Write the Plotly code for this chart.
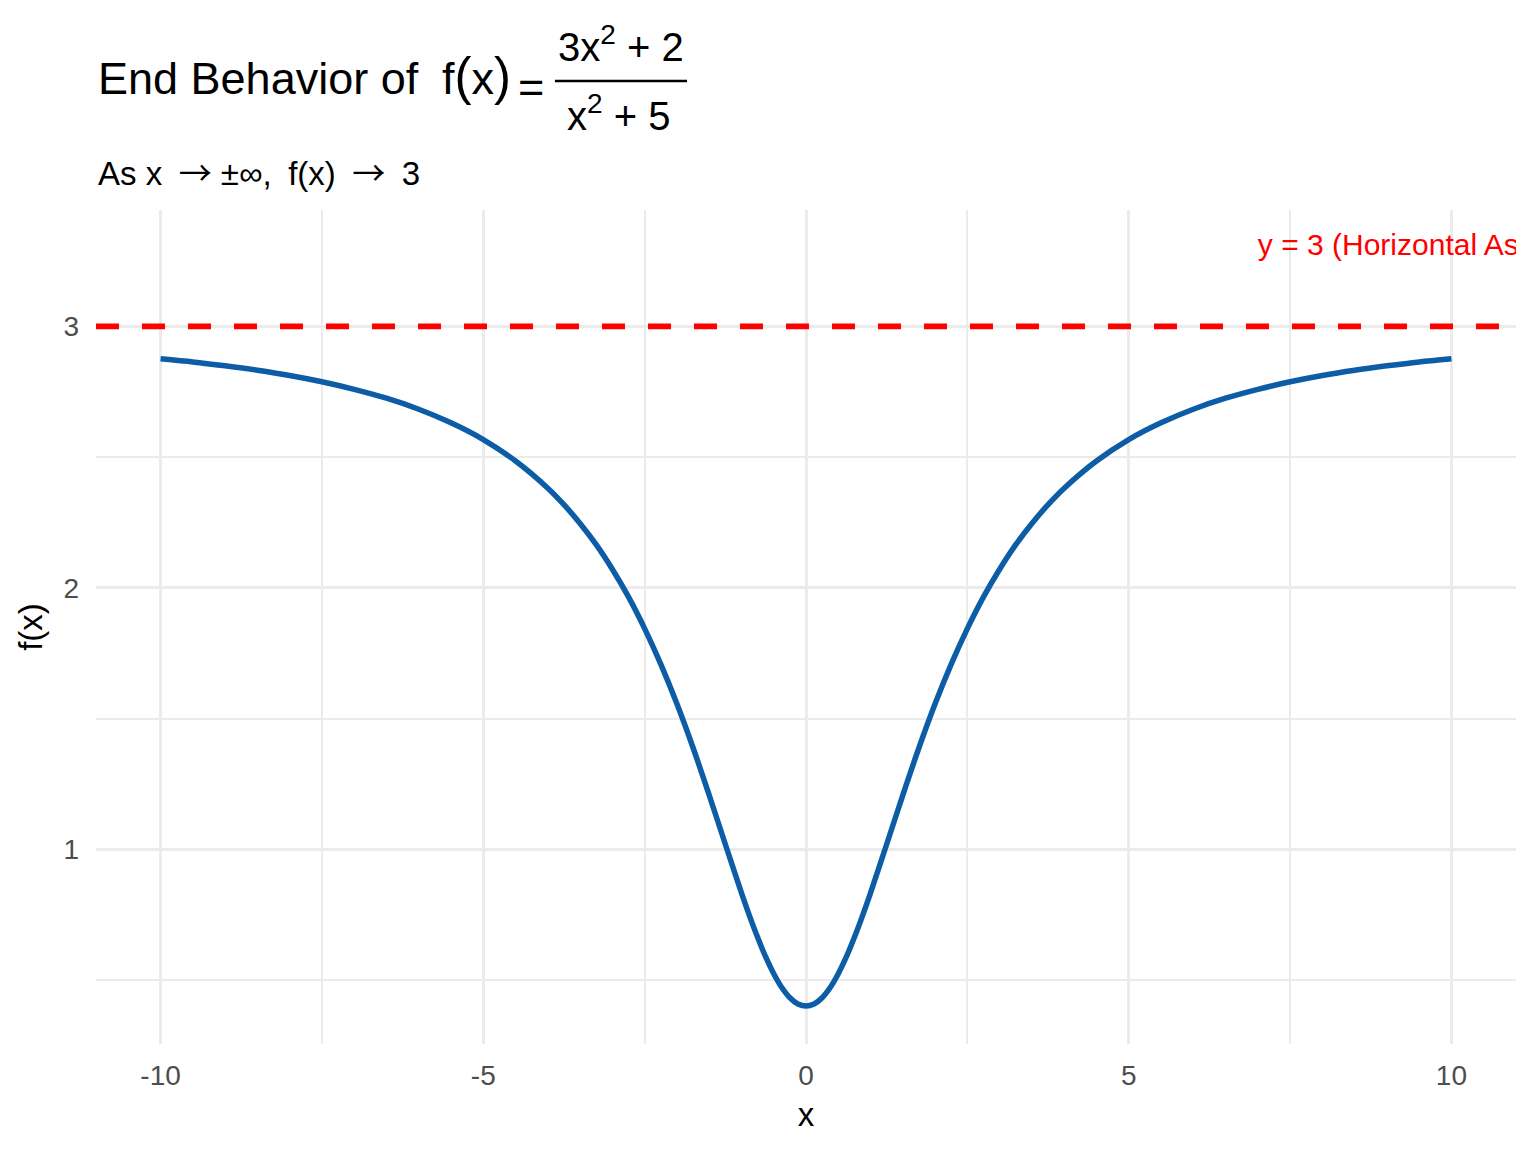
import plotly.graph_objects as go

# values (denser near the dip)
x_vals = [-10, -9.5, -9, -8.5, -8, -7.5, -7, -6.5, -6, -5.5, -5, -4.5,
          -4, -3.75, -3.5, -3.25, -3, -2.75, -2.5, -2.25, -2, -1.75, -1.5, -1.25,
          -1, -0.875, -0.75, -0.625, -0.5, -0.375, -0.25, -0.125, 0,
          0.125, 0.25, 0.375, 0.5, 0.625, 0.75, 0.875, 1,
          1.25, 1.5, 1.75, 2, 2.25, 2.5, 2.75, 3, 3.25, 3.5, 3.75, 4,
          4.5, 5, 5.5, 6, 6.5, 7, 7.5, 8, 8.5, 9, 9.5, 10]
y_vals = [2.876, 2.864, 2.849, 2.832, 2.812, 2.788, 2.759, 2.725, 2.683, 2.631, 2.567, 2.485,
          2.381, 2.318, 2.246, 2.165, 2.071, 1.965, 1.844, 1.708, 1.556, 1.388, 1.207, 1.019,
          0.833, 0.745, 0.663, 0.588, 0.524, 0.471, 0.432, 0.408, 0.400,
          0.408, 0.432, 0.471, 0.524, 0.588, 0.663, 0.745, 0.833,
          1.019, 1.207, 1.388, 1.556, 1.708, 1.844, 1.965, 2.071, 2.165, 2.246, 2.318, 2.381,
          2.485, 2.567, 2.631, 2.683, 2.725, 2.759, 2.788, 2.812, 2.832, 2.849, 2.864, 2.876]

x_tickvals = [-10, -5, 0, 5, 10]
x_ticktext = ["-10", "-5", "0", "5", "10"]

asymptote_y = 3
label_x = [7]
label_y = [3.3]
label_text = ["y = 3 (Horizontal Asymptote)"]

FONT = "Liberation Sans, Arial, sans-serif"
GRID = "#EBEBEB"
ARROW = '<span style="font-family:Noto Sans CJK SC">→</span>'
EN = "\u2002"

fig = go.Figure()

fig.add_trace(
    go.Scatter(
        x=x_vals,
        y=y_vals,
        mode="lines",
        line=dict(color="#0C5DA5", width=5.5, shape="spline", smoothing=0.8),
        showlegend=False,
        hoverinfo="skip",
    )
)

fig.add_hline(
    y=asymptote_y,
    line=dict(color="#FF0000", width=5.7, dash="23px,23px"),
)

# text trace so the label is clipped at the panel edge like the original
fig.add_trace(
    go.Scatter(
        x=label_x,
        y=label_y,
        mode="text",
        text=label_text,
        textposition="middle right",
        textfont=dict(family=FONT, size=30, color="#FF0000"),
        cliponaxis=True,
        showlegend=False,
        hoverinfo="skip",
    )
)

# title pieces (fraction built by hand, no MathJax offline)
title_font = dict(family=FONT, size=45, color="black")
frac_font = dict(family=FONT, size=40, color="black")

fig.add_annotation(
    text="End Behavior of", x=0, y=1.1571, xref="paper", yref="paper",
    xanchor="left", yanchor="middle", showarrow=False, font=title_font,
)
fig.add_annotation(
    text='f<span style="font-size:51px">(</span>x<span style="font-size:51px">)</span>',
    x=0.2423, y=1.1605, xref="paper", yref="paper",
    xanchor="left", yanchor="middle", showarrow=False, font=title_font,
)
fig.add_annotation(
    text="=", x=0.3063, y=1.1475, xref="paper", yref="paper",
    xanchor="center", yanchor="middle", showarrow=False, font=title_font,
)
fig.add_annotation(
    text="3x<sup>2</sup> + 2", x=0.3697, y=1.1985, xref="paper", yref="paper",
    xanchor="center", yanchor="middle", showarrow=False, font=frac_font,
)
fig.add_annotation(
    text="x<sup>2</sup> + 5", x=0.3680, y=1.1169, xref="paper", yref="paper",
    xanchor="center", yanchor="middle", showarrow=False, font=frac_font,
)
fig.add_shape(
    type="line", xref="paper", yref="paper",
    x0=0.3232, x1=0.4162, y0=1.1547, y1=1.1547,
    line=dict(color="black", width=2.5),
)
fig.add_annotation(
    text=f"As x{EN}{ARROW} ±∞,{EN}f(x){EN}{ARROW}{EN}3",
    x=0, y=1.0468, xref="paper", yref="paper",
    xanchor="left", yanchor="middle", showarrow=False,
    font=dict(family=FONT, size=33, color="black"),
)

# page body has an 8px margin, so the figure is 8px smaller and margins shifted
fig.update_layout(
    width=1528,
    height=1144,
    margin=dict(l=88, r=20, t=202, b=108),
    paper_bgcolor="white",
    plot_bgcolor="white",
    font=dict(family=FONT),
    xaxis=dict(
        range=[-11, 11],
        tickvals=x_tickvals,
        ticktext=x_ticktext,
        showgrid=True,
        gridcolor=GRID,
        gridwidth=3,
        zeroline=False,
        showline=False,
        ticks="",
        ticklabelstandoff=12,
        tickfont=dict(family=FONT, size=28, color="#4D4D4D"),
        minor=dict(dtick=2.5, tick0=0, showgrid=True, gridcolor=GRID, gridwidth=1.6),
        title=dict(text="x", font=dict(family=FONT, size=33, color="black"), standoff=12),
    ),
    yaxis=dict(
        range=[0.255, 3.445],
        tick0=0,
        dtick=1,
        showgrid=True,
        gridcolor=GRID,
        gridwidth=3,
        zeroline=False,
        showline=False,
        ticks="",
        ticklabelstandoff=16,
        tickfont=dict(family=FONT, size=28, color="#4D4D4D"),
        minor=dict(dtick=0.5, showgrid=True, gridcolor=GRID, gridwidth=1.6),
        title=dict(text="f(x)", font=dict(family=FONT, size=33, color="black"), standoff=10),
    ),
)

fig.write_html("out.html")
